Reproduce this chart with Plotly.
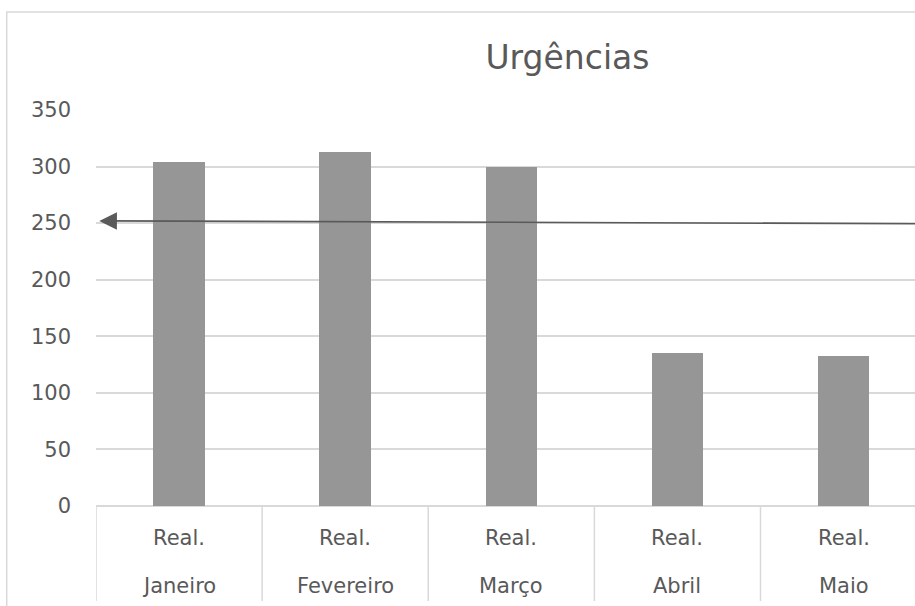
import plotly.graph_objects as go

# Monthly emergency counts (realised values)
months = ["Janeiro", "Fevereiro", "Março", "Abril", "Maio"]
level = ["Real.", "Real.", "Real.", "Real.", "Real."]
values = [304, 313, 300, 135, 133]
y_ticks = [0, 50, 100, 150, 200, 250, 300, 350]

# Reference arrow (tail on the right, head at the left edge)
arrow_head = (-0.48, 252)
arrow_tail = (4.45, 249.5)

TEXT = "#595959"
GRID = "#d9d9d9"
BAR = "#969696"
FONT = "DejaVu Sans"

idx = list(range(len(months)))

fig = go.Figure()
fig.add_trace(go.Bar(
    x=idx, y=values, width=0.31,
    marker=dict(color=BAR, line=dict(width=0)),
    hoverinfo="skip",
))

shapes = []
# category dividers below the axis
for i in range(len(months) + 1):
    shapes.append(dict(type="line", xref="x", yref="paper",
                       x0=i - 0.5, x1=i - 0.5, y0=0, y1=-0.24,
                       line=dict(color=GRID, width=1.5)))
# outer chart border
shapes.append(dict(type="rect", xref="paper", yref="paper",
                   x0=-0.109, x1=1.2, y0=1.2475, y1=-0.4,
                   line=dict(color=GRID, width=1.5), fillcolor="rgba(0,0,0,0)",
                   layer="below"))

annotations = []
for i, (lv, m) in enumerate(zip(level, months)):
    annotations.append(dict(x=i, y=0, xref="x", yref="paper", text=lv,
                            showarrow=False, yshift=-32, yanchor="middle",
                            font=dict(family=FONT, size=21, color=TEXT)))
    annotations.append(dict(x=i, y=0, xref="x", yref="paper", text=m,
                            showarrow=False, yshift=-80, yanchor="middle",
                            font=dict(family=FONT, size=21, color=TEXT)))

annotations.append(dict(
    x=arrow_head[0], y=arrow_head[1], xref="x", yref="y",
    ax=arrow_tail[0], ay=arrow_tail[1], axref="x", ayref="y",
    text="", showarrow=True, arrowhead=2, arrowsize=2.2,
    arrowwidth=1.6, arrowcolor="#5a5a5a",
))

fig.update_layout(
    width=915, height=606, autosize=False,
    margin=dict(l=96, r=0, t=110, b=100),
    paper_bgcolor="white", plot_bgcolor="white",
    showlegend=False,
    title=dict(text="Urgências", x=567.5 / 915, xanchor="center",
               y=1 - 57 / 606, yanchor="middle",
               font=dict(family=FONT, size=33, color=TEXT)),
    xaxis=dict(range=[-0.5, 4.43], showticklabels=False, showgrid=False,
               zeroline=False, showline=False, ticks="", fixedrange=True),
    yaxis=dict(range=[0, 350], tickvals=y_ticks, showgrid=True,
               gridcolor=GRID, gridwidth=1.5, zeroline=True,
               zerolinecolor=GRID, zerolinewidth=1.5, showline=False,
               ticks="", ticklabelstandoff=24,
               tickfont=dict(family=FONT, size=21, color=TEXT)),
    shapes=shapes,
    annotations=annotations,
    bargap=0,
)

fig.write_html("out.html")
